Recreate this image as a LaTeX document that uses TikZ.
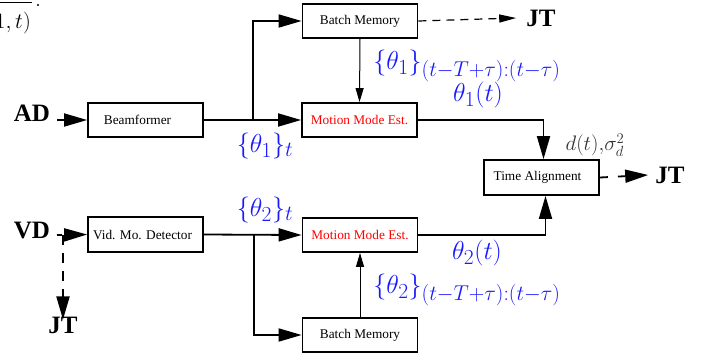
\documentclass[tikz,border=0pt]{standalone}
\usepackage{fix-cm}
\usepackage{fontspec}
\setmainfont{Liberation Serif}
\usetikzlibrary{arrows.meta}
\DeclareMathSizes{26}{26}{21.5}{16}
\definecolor{mblue}{RGB}{25,25,255}
\begin{document}
\begin{tikzpicture}[x=1pt,y=-1pt,
 blk/.style={draw,line width=1.8pt,minimum width=115pt,minimum height=34pt,inner sep=0pt,font=\fontsize{13.3}{15}\selectfont},
 redtxt/.style={text=red},
 biglab/.style={font=\fontsize{25}{28}\selectfont\bfseries,inner sep=0pt},
 mlab/.style={text=mblue,font=\fontsize{26}{30}\selectfont,inner sep=0pt},
 thickarr/.style={line width=1.8pt,-{Triangle[length=23pt,width=13pt]}},
 thinarr/.style={line width=1pt,-{Triangle[length=14pt,width=8pt]}},
 wire/.style={line width=1.8pt}
]
\useasboundingbox (0,0) rectangle (713,354);

% fragment at top-left
\node[font=\fontsize{22}{26}\selectfont,inner sep=0pt,anchor=east] (frag) at (31,23) {$1,t\bigr)$};
\draw[line width=1pt] (-5,2) -- (32,2);
\fill (38,5) circle (1.2);

% blocks
\node[blk] (bm1) at (360,21) {Batch Memory};
\node[blk,redtxt] (mme1) at (359.5,120) {Motion Mode Est.};
\node[blk] (bf) at (145.5,120) {\hspace{-16pt}Beamformer};
\node[blk,minimum height=35pt] (ta) at (541.5,177.5) {\hspace{-8pt}Time Alignment};
\node[blk,minimum height=35pt] (vmd) at (145.5,234.5) {\hspace{-6pt}Vid. Mo. Detector};
\node[blk,redtxt] (mme2) at (360,235) {Motion Mode Est.};
\node[blk] (bm2) at (360,335) {Batch Memory};

% labels
\node[biglab] (ad) at (32,113) {AD};
\node[biglab] (vd) at (32,230) {VD};
\node[biglab] (jt1) at (541,18) {JT};
\node[biglab] (jt2) at (670,175) {JT};
\node[biglab] (jt3) at (63,325) {JT};

\coordinate (adend) at (57,120);
\coordinate (vdend) at (57,235);
\coordinate (vdsplit) at (63,235);
\coordinate (s1) at (253,120);
\coordinate (s2) at (254,235);

% connectors upper
\draw[thickarr] (adend) -- (bf.west);
\draw[thickarr] (bf.east) -- (mme1.west);
\draw[thickarr] (s1) |- (bm1.west);
\draw[thinarr] (bm1.south) -- (mme1.north);
\draw[line width=1.2pt,dash pattern=on 8pt off 6pt,-{Triangle[length=17pt,width=8pt]}] (bm1.east) -- ([xshift=-10pt]jt1.west);
\draw[thickarr] (mme1.east) -| ([xshift=2pt]ta.north);

% connectors lower
\draw[thickarr,dash pattern=on 5pt off 3pt] (vdend) -- (vmd.west);
\draw[thickarr,dash pattern=on 10pt off 8pt] (vdsplit) -- ([yshift=-3pt]jt3.north);
\draw[thickarr] (vmd.east) -- (mme2.west);
\draw[thickarr] (s2) |- (bm2.west);
\draw[thinarr] (bm2.north) -- (mme2.south);
\draw[thickarr] (mme2.east) -| ([xshift=4pt]ta.south);
\draw[thickarr,dash pattern=on 8pt off 10pt] (ta.east) -- ([xshift=-7pt]jt2.west);

% math labels
\node[mlab] (l1) at (265,146) {$\{\theta_1\}_t$};
\node[mlab] (l2) at (265,210) {$\{\theta_2\}_t$};
\node[mlab] (l3) at (467,66) {$\{\theta_1\}_{(t-T+\tau):(t-\tau)}$};
\node[mlab] (l4) at (478,95) {$\theta_1(t)$};
\node[mlab] (l5) at (477,253) {$\theta_2(t)$};
\node[mlab] (l6) at (467,290) {$\{\theta_2\}_{(t-T+\tau):(t-\tau)}$};
\node[font=\fontsize{21}{24}\selectfont,inner sep=0pt,text=black!80] (l7) at (595,145) {$d(t),\!\sigma_d^2$};
\end{tikzpicture}
\end{document}
